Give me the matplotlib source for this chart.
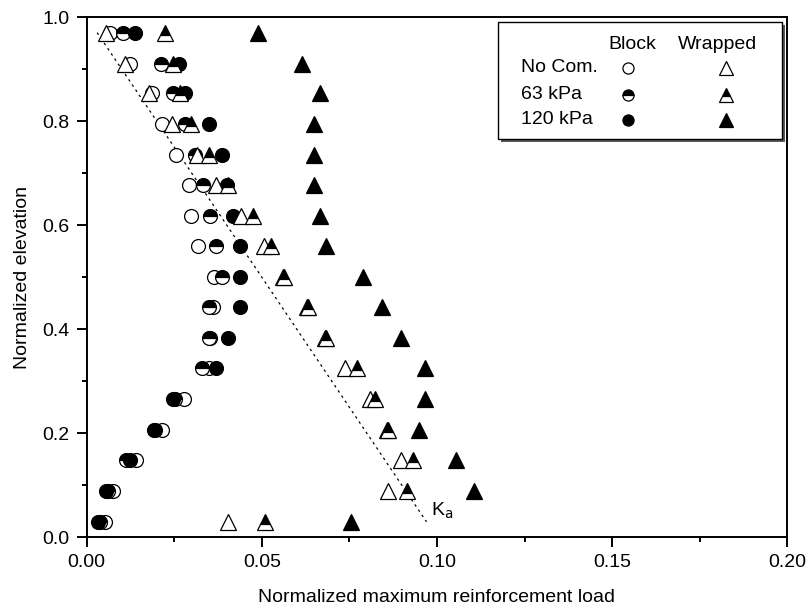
import matplotlib
matplotlib.use("Agg")
import matplotlib.pyplot as plt
from matplotlib.ticker import MultipleLocator, FormatStrFormatter

plt.rcParams["font.family"] = ["Liberation Sans", "DejaVu Sans"]
plt.rcParams["font.size"] = 14

# normalized elevation of each reinforcement layer (top to bottom)
elev = [0.97, 0.91, 0.855, 0.795, 0.735, 0.678, 0.618, 0.56, 0.50,
        0.442, 0.383, 0.325, 0.266, 0.207, 0.148, 0.089, 0.03]

# normalized maximum reinforcement load, block facing
block_nocom = [0.0066, 0.0123, 0.0186, 0.0215, 0.0256, 0.0292, 0.0298, 0.0317, 0.0363,
               0.0361, 0.0352, 0.0350, 0.0278, 0.0215, 0.0142, 0.0075, 0.0053]
block_63 = [0.0103, 0.0211, 0.0246, 0.0280, 0.0310, 0.0333, 0.0352, 0.0368, 0.0385,
            0.0350, 0.0350, 0.0328, 0.0252, 0.0195, 0.0111, 0.0060, 0.0037]
block_120 = [0.0139, 0.0263, 0.0280, 0.0350, 0.0385, 0.0400, 0.0419, 0.0438, 0.0438,
             0.0438, 0.0403, 0.0368, 0.0247, 0.0193, 0.0125, 0.0056, 0.0032]

# wrapped facing
wrap_nocom = [0.0054, 0.0109, 0.0177, 0.0245, 0.0314, 0.0369, 0.0440, 0.0506, 0.0560,
              0.0628, 0.0680, 0.0738, 0.0808, 0.0858, 0.0896, 0.0860, 0.0403]
wrap_63 = [0.0225, 0.0246, 0.0266, 0.0298, 0.0349, 0.0403, 0.0476, 0.0526, 0.0562,
           0.0631, 0.0684, 0.0773, 0.0824, 0.0860, 0.0932, 0.0913, 0.0509]
wrap_120 = [0.0490, 0.0614, 0.0667, 0.0650, 0.0650, 0.0650, 0.0667, 0.0684, 0.0790,
            0.0843, 0.0896, 0.0967, 0.0967, 0.0948, 0.1053, 0.1105, 0.0755]

# active earth pressure line
ka_x = [0.003, 0.097]
ka_y = [0.97, 0.03]

fig = plt.figure(figsize=(8.1, 6.1), dpi=100)
ax = fig.add_axes([0.107, 0.119, 0.865, 0.853])

mew = 0.9
ax.plot(ka_x, ka_y, ls=(0, (2, 3)), color="black", lw=0.9, zorder=1)

open_kw = dict(ls="none", mew=mew, mec="black", mfc="white")
half_kw = dict(ls="none", mew=mew, mec="black", mfc="black",
               fillstyle="top", markerfacecoloralt="white")
full_kw = dict(ls="none", mew=mew, mec="black", mfc="black")

ax.plot(block_nocom, elev, "o", ms=10, **open_kw)
ax.plot(block_63, elev, "o", ms=10, **half_kw)
ax.plot(block_120, elev, "o", ms=10, **full_kw)
ax.plot(wrap_nocom, elev, "^", ms=11.5, **open_kw)
ax.plot(wrap_63, elev, "^", ms=11.5, **half_kw)
ax.plot(wrap_120, elev, "^", ms=11.5, **full_kw)

ax.text(ka_x[1] + 0.0012, ka_y[1] + 0.002, r"K$_\mathrm{a}$", va="bottom")

ax.set_xlim(0, 0.2)
ax.set_ylim(0, 1.0)
ax.xaxis.set_major_locator(MultipleLocator(0.05))
ax.xaxis.set_minor_locator(MultipleLocator(0.025))
ax.yaxis.set_major_locator(MultipleLocator(0.2))
ax.yaxis.set_minor_locator(MultipleLocator(0.1))
ax.xaxis.set_major_formatter(FormatStrFormatter("%.2f"))
ax.yaxis.set_major_formatter(FormatStrFormatter("%.1f"))
ax.tick_params(which="both", direction="out", width=1.4, top=False, right=False)
ax.tick_params(which="major", length=7.2, pad=5)
ax.tick_params(which="minor", length=3.6)
for s in ax.spines.values():
    s.set_linewidth(1.4)

ax.set_xlabel("Normalized maximum reinforcement load", labelpad=13)
ax.set_ylabel("Normalized elevation", labelpad=8)

# hand-built two-column legend
tr = ax.transAxes
shadow = plt.Rectangle((0.5913, 0.760), 0.406, 0.224, transform=tr, facecolor="0.35",
                       edgecolor="none", zorder=4)
box = plt.Rectangle((0.587, 0.766), 0.406, 0.224, transform=tr, facecolor="white",
                    edgecolor="black", lw=1.0, zorder=5)
ax.add_patch(shadow)
ax.add_patch(box)
ax.text(0.779, 0.947, "Block", transform=tr, ha="center", va="center", zorder=6)
ax.text(0.900, 0.947, "Wrapped", transform=tr, ha="center", va="center", zorder=6)
rows = ["No Com.", "63 kPa", "120 kPa"]
row_y = [0.903, 0.851, 0.803]
styles = [open_kw, half_kw, full_kw]
for label, yy, kw in zip(rows, row_y, styles):
    ax.text(0.620, yy, label, transform=tr, ha="left", va="center", zorder=6)
    ax.plot([0.772], [yy], "o", ms=8, transform=tr, zorder=6, clip_on=False, **kw)
    ax.plot([0.913], [yy], "^", ms=10, transform=tr, zorder=6, clip_on=False, **kw)

fig.savefig("out.png", dpi=100)
